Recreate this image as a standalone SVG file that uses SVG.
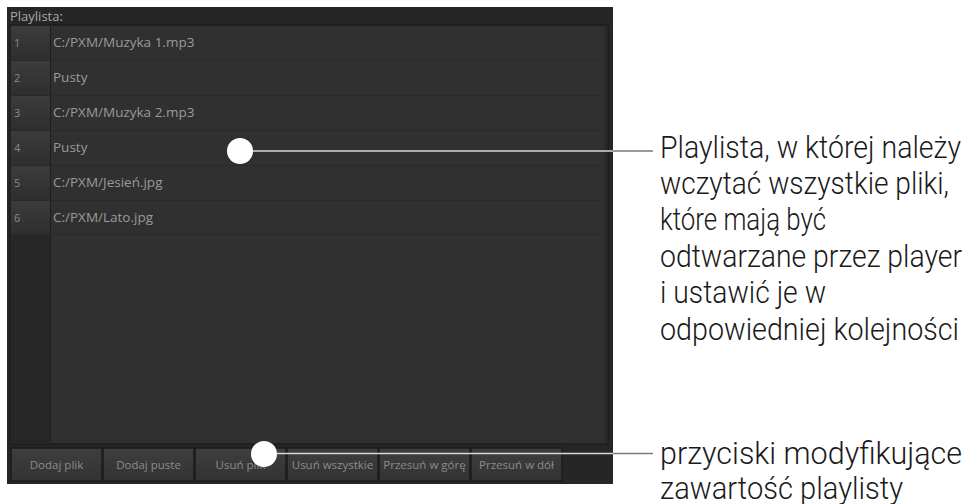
<svg xmlns="http://www.w3.org/2000/svg" width="968" height="504" viewBox="0 0 968 504">
<defs>
<linearGradient id="numg" x1="0" y1="0" x2="0" y2="1">
<stop offset="0" stop-color="#3c3c3c"/><stop offset="1" stop-color="#2e2e2e"/>
</linearGradient>
<linearGradient id="btng" x1="0" y1="0" x2="0" y2="1">
<stop offset="0" stop-color="#3e3e3e"/><stop offset="1" stop-color="#333333"/>
</linearGradient>
</defs>
<style>
.ui{font-family:"Open Sans","DejaVu Sans",sans-serif;font-size:13.5px;fill:#9a9a9a}
.ttl{font-family:"Open Sans","DejaVu Sans",sans-serif;font-size:13px;fill:#a8a8a8}
.num{font-family:"Open Sans","DejaVu Sans",sans-serif;font-size:11px;fill:#8a8a8a}
.btn{font-family:"Open Sans","DejaVu Sans",sans-serif;font-size:11.5px;fill:#8c8c8c;text-anchor:middle}
.btnr{fill:url(#btng);stroke:#1c1c1c;stroke-width:1.5}
.numc{fill:url(#numg)}
.sep{fill:#292929}
.note{font-family:Roboto,"Liberation Sans",sans-serif;font-weight:300;font-size:32px;fill:#1a1a1a}
.dot{fill:#ffffff}
</style>
<rect width="968" height="504" fill="#ffffff"/>
<g id="panel">
<rect x="7" y="7" width="606" height="477" fill="#262626"/>
<text x="10" y="21" class="ttl">Playlista:</text>
<rect x="10" y="25" width="598" height="419" fill="#303030" stroke="#161616" stroke-width="1"/>
<rect x="11" y="235" width="39" height="208" fill="#272727"/>
<line x1="50.5" y1="26" x2="50.5" y2="443" stroke="#1e1e1e"/>
<rect x="604" y="26" width="3" height="417" fill="#2a2a2a"/>
</g>
<g id="row1"><rect class="numc" x="11" y="26" width="39" height="34"/><rect class="sep" x="11" y="60" width="593" height="1"/><text class="num" x="14" y="47">1</text><text class="ui" x="53" y="47">C:/PXM/Muzyka 1.mp3</text></g>
<g id="row2"><rect class="numc" x="11" y="61" width="39" height="34"/><rect class="sep" x="11" y="95" width="593" height="1"/><text class="num" x="14" y="82">2</text><text class="ui" x="53" y="82">Pusty</text></g>
<g id="row3"><rect class="numc" x="11" y="96" width="39" height="34"/><rect class="sep" x="11" y="130" width="593" height="1"/><text class="num" x="14" y="117">3</text><text class="ui" x="53" y="117">C:/PXM/Muzyka 2.mp3</text></g>
<g id="row4"><rect class="numc" x="11" y="131" width="39" height="34"/><rect class="sep" x="11" y="165" width="593" height="1"/><text class="num" x="14" y="152">4</text><text class="ui" x="53" y="152">Pusty</text></g>
<g id="row5"><rect class="numc" x="11" y="166" width="39" height="34"/><rect class="sep" x="11" y="200" width="593" height="1"/><text class="num" x="14" y="187">5</text><text class="ui" x="53" y="187">C:/PXM/Jesień.jpg</text></g>
<g id="row6"><rect class="numc" x="11" y="201" width="39" height="33"/><rect class="sep" x="11" y="234" width="593" height="1"/><text class="num" x="14" y="222">6</text><text class="ui" x="53" y="222">C:/PXM/Lato.jpg</text></g>
<g id="buttons">
<rect class="btnr" x="11" y="448" width="91" height="33"/><text class="btn" x="56.5" y="469">Dodaj plik</text>
<rect class="btnr" x="103" y="448" width="91" height="33"/><text class="btn" x="148.5" y="469">Dodaj puste</text>
<rect class="btnr" x="195" y="448" width="91" height="33"/><text class="btn" x="240.5" y="469">Usuń plik</text>
<rect class="btnr" x="287" y="448" width="91" height="33"/><text class="btn" x="332.5" y="469">Usuń wszystkie</text>
<rect class="btnr" x="379" y="448" width="91" height="33"/><text class="btn" x="424.5" y="469">Przesuń w górę</text>
<rect class="btnr" x="471" y="448" width="91" height="33"/><text class="btn" x="516.5" y="469">Przesuń w dół</text>
</g>
<g id="connectors">
<line x1="252" y1="151" x2="613" y2="151" stroke="#d8d8d8" stroke-width="1.5"/>
<line x1="613" y1="151" x2="653" y2="151" stroke="#7a7a7a" stroke-width="1.5"/>
<line x1="276" y1="453.5" x2="613" y2="453.5" stroke="#d8d8d8" stroke-width="1.5"/>
<line x1="613" y1="453.5" x2="653" y2="453.5" stroke="#7a7a7a" stroke-width="1.5"/>
<circle class="dot" cx="240" cy="151" r="13"/>
<circle class="dot" cx="264" cy="454" r="13"/>
</g>
<g id="note1">
<text class="note" x="660" y="158" textLength="301" lengthAdjust="spacingAndGlyphs">Playlista, w której należy</text>
<text class="note" x="660" y="194" textLength="289" lengthAdjust="spacingAndGlyphs">wczytać wszystkie pliki,</text>
<text class="note" x="660" y="230" textLength="166" lengthAdjust="spacingAndGlyphs">które mają być</text>
<text class="note" x="660" y="267" textLength="302" lengthAdjust="spacingAndGlyphs">odtwarzane przez player</text>
<text class="note" x="660" y="303" textLength="166" lengthAdjust="spacingAndGlyphs">i ustawić je w</text>
<text class="note" x="660" y="340" textLength="299" lengthAdjust="spacingAndGlyphs">odpowiedniej kolejności</text>
</g>
<g id="note2">
<text class="note" x="660" y="464" textLength="302" lengthAdjust="spacingAndGlyphs">przyciski modyfikujące</text>
<text class="note" x="660" y="499" textLength="243" lengthAdjust="spacingAndGlyphs">zawartość playlisty</text>
</g>
</svg>
